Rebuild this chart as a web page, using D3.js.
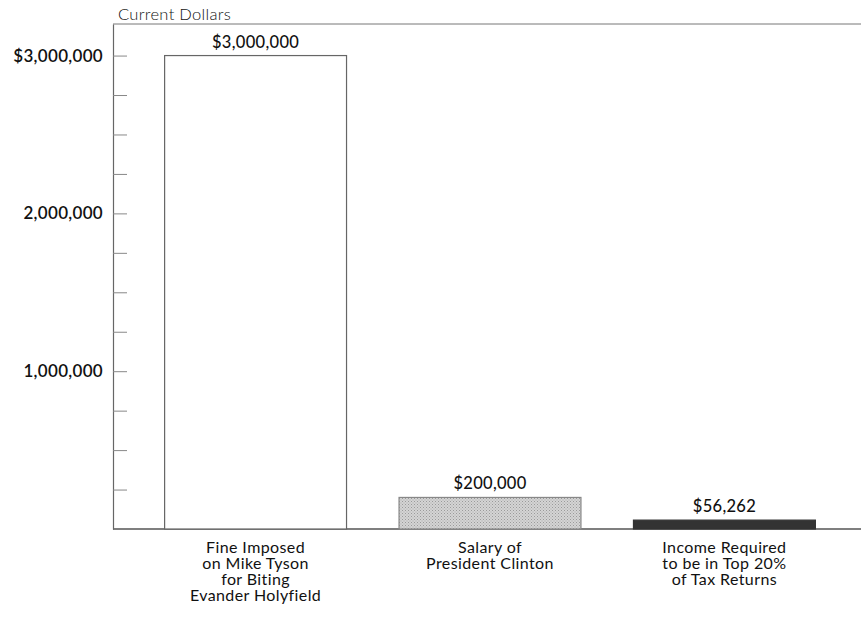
<!DOCTYPE html>
<html>
<head>
<meta charset="utf-8">
<script src="https://cdn.jsdelivr.net/npm/d3@7"></script>
<style>
  body { margin: 0; background: #fff; }
  text { font-family: Lato, "Open Sans", sans-serif; fill: #111; }
</style>
</head>
<body>
<div id="chart"></div>
<script>
const categories = [
  ["Fine Imposed", "on Mike Tyson", "for Biting", "Evander Holyfield"],
  ["Salary of", "President Clinton"],
  ["Income Required", "to be in Top 20%", "of Tax Returns"]
];
const values = [3000000, 200000, 56262];
const valueLabels = ["$3,000,000", "$200,000", "$56,262"];
const tickValues = [1000000, 2000000, 3000000];
const tickLabels = ["1,000,000", "2,000,000", "$3,000,000"];

const W = 861, H = 623;
const margin = { top: 24, right: 0, bottom: 94, left: 113 };

const svg = d3.select("#chart")
  .append("svg")
  .attr("width", W)
  .attr("height", H);

const defs = svg.append("defs");
const pat = defs.append("pattern")
  .attr("id", "stipple")
  .attr("width", 3).attr("height", 3)
  .attr("patternUnits", "userSpaceOnUse");
pat.append("rect").attr("width", 3).attr("height", 3).attr("fill", "#d4d4d4");
pat.append("rect").attr("width", 1).attr("height", 1).attr("fill", "#9a9a9a");
pat.append("rect").attr("x", 1.5).attr("y", 1.5).attr("width", 1).attr("height", 1).attr("fill", "#a8a8a8");

const x = d3.scaleBand()
  .domain(d3.range(values.length))
  .range([140, 840])
  .paddingInner(0.224)
  .paddingOuter(0.105);

const y = d3.scaleLinear()
  .domain([0, 3200000])
  .range([H - margin.bottom, margin.top]);

const fills = ["#fff", "url(#stipple)", "#333"];
const strokes = ["#666", "#888", "#333"];

// frame: top line, left axis, baseline
svg.append("line")
  .attr("x1", margin.left).attr("x2", W)
  .attr("y1", y(3200000)).attr("y2", y(3200000))
  .attr("stroke", "#777").attr("stroke-width", 1);

svg.append("line")
  .attr("x1", margin.left).attr("x2", W)
  .attr("y1", y(0)).attr("y2", y(0))
  .attr("stroke", "#555").attr("stroke-width", 1.3);

const yAxis = svg.append("g")
  .attr("transform", `translate(${margin.left},0)`)
  .call(d3.axisRight(y)
    .tickValues(d3.range(250000, 3200000, 250000))
    .tickSize(14)
    .tickSizeOuter(0)
    .tickFormat(""));
yAxis.select(".domain").attr("stroke", "#666").attr("stroke-width", 1.2);
yAxis.selectAll(".tick line").attr("stroke", "#888");

svg.selectAll(".ylab")
  .data(tickValues)
  .join("text")
  .attr("class", "ylab")
  .attr("x", margin.left - 10)
  .attr("y", d => y(d))
  .attr("dy", "0.35em")
  .attr("text-anchor", "end")
  .style("font-size", "17px")
  .style("font-weight", "600")
  .style("letter-spacing", "0.3px")
  .text((d, i) => tickLabels[i]);

svg.append("text")
  .attr("x", 118)
  .attr("y", 20)
  .style("font-size", "16.5px")
  .style("font-weight", "300")
  .style("letter-spacing", "0.3px")
  .text("Current Dollars");

svg.selectAll(".bar")
  .data(values)
  .join("rect")
  .attr("class", "bar")
  .attr("x", (d, i) => x(i))
  .attr("y", d => y(d))
  .attr("width", x.bandwidth())
  .attr("height", d => y(0) - y(d))
  .attr("fill", (d, i) => fills[i])
  .attr("stroke", (d, i) => strokes[i])
  .attr("stroke-width", 1.2);

svg.selectAll(".vlab")
  .data(values)
  .join("text")
  .attr("class", "vlab")
  .attr("x", (d, i) => x(i) + x.bandwidth() / 2)
  .attr("y", d => y(d) - 8)
  .attr("text-anchor", "middle")
  .style("font-size", "16.5px")
  .style("font-weight", "500")
  .style("letter-spacing", "0.3px")
  .text((d, i) => valueLabels[i]);

const cat = svg.selectAll(".cat")
  .data(categories)
  .join("text")
  .attr("class", "cat")
  .attr("text-anchor", "middle")
  .style("font-size", "16px")
  .style("letter-spacing", "0.4px");

cat.selectAll("tspan")
  .data((d, i) => d.map(s => ({ s, i })))
  .join("tspan")
  .attr("x", d => x(d.i) + x.bandwidth() / 2)
  .attr("y", (d, j) => y(0) + 24 + j * 16)
  .text(d => d.s);
</script>
</body>
</html>
